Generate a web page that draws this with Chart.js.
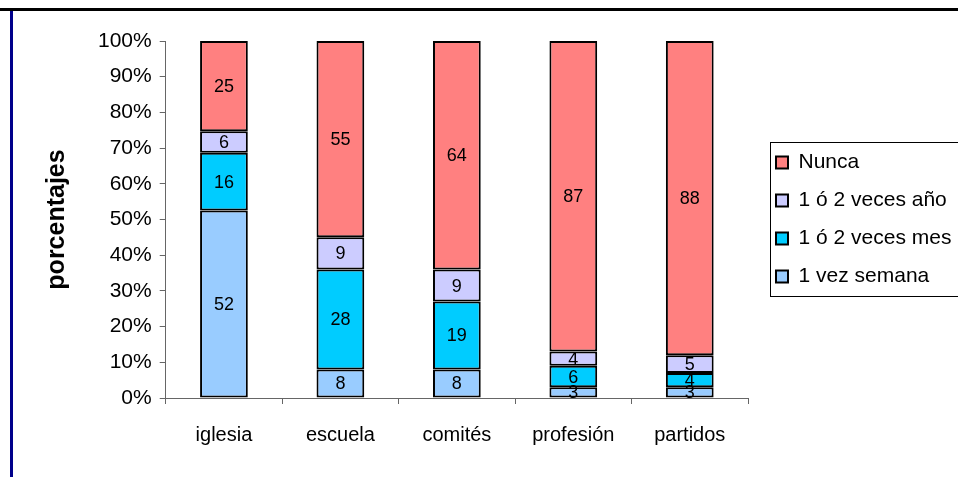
<!DOCTYPE html>
<html>
<head>
<meta charset="utf-8">
<script src="https://cdn.jsdelivr.net/npm/chart.js@4.4.1/dist/chart.umd.min.js"></script>
<style>
  html, body { margin: 0; padding: 0; background: #fff; overflow: hidden; }
  #wrap { position: relative; width: 958px; height: 477px; }
  #chart { position: absolute; left: 0; top: 0; }
  #topLine { position: absolute; left: 0; top: 8px; width: 958px; height: 3px; background: #000; }
  #sideLine { position: absolute; left: 10px; top: 11px; width: 3px; height: 466px; background: #00008b; }
</style>
</head>
<body>
<div id="wrap">
  <canvas id="chart" width="958" height="477"></canvas>
  <div id="topLine"></div>
  <div id="sideLine"></div>
</div>
<script>
const categories = ['iglesia', 'escuela', 'comités', 'profesión', 'partidos'];
const semana = [52, 8, 8, 3, 3];     // 1 vez semana
const mes = [16, 28, 19, 6, 4];      // 1 ó 2 veces mes
const anio = [6, 9, 9, 4, 5];        // 1 ó 2 veces año
const nunca = [25, 55, 64, 87, 88];  // Nunca
const yTicks = [0, 10, 20, 30, 40, 50, 60, 70, 80, 90, 100];

const FONT = "'Liberation Sans', Arial, sans-serif";

// 100% stacked: turn each value into its share of the category total
const totals = categories.map((c, i) => semana[i] + mes[i] + anio[i] + nunca[i]);
const toPct = arr => arr.map((v, i) => v / totals[i] * 100);

function makeSet(label, raw, color) {
    return {
        label: label,
        data: toPct(raw),
        raw: raw,
        backgroundColor: color,
        borderColor: '#000',
        borderWidth: 2,
        borderSkipped: false,
        categoryPercentage: 1,
        barPercentage: 0.41
    };
}

// draw the value in the middle of each segment
const valueLabels = {
    id: 'valueLabels',
    afterDatasetsDraw(chart) {
        const ctx = chart.ctx;
        ctx.save();
        ctx.font = '18px ' + FONT;
        ctx.fillStyle = '#000';
        ctx.textAlign = 'center';
        ctx.textBaseline = 'middle';
        chart.data.datasets.forEach((ds, i) => {
            chart.getDatasetMeta(i).data.forEach((bar, j) => {
                ctx.fillText(String(ds.raw[j]), bar.x, (bar.y + bar.base) / 2 + 1);
            });
        });
        ctx.restore();
    }
};

// move the legend next to the plot and frame it
const legendBox = {
    id: 'legendBox',
    afterLayout(chart) {
        const lg = chart.legend;
        const pad = lg.options.labels.padding;
        lg.left = chart.chartArea.right + 28 - pad;
        lg.right = chart.width + 20;
        lg.width = lg.right - lg.left;
        lg.top = chart.chartArea.top;
        lg.bottom = chart.chartArea.bottom;
    },
    afterDraw(chart) {
        const hb = chart.legend.legendHitBoxes;
        if (!hb || !hb.length) return;
        const first = hb[0], last = hb[hb.length - 1];
        const ctx = chart.ctx;
        ctx.save();
        ctx.strokeStyle = '#000';
        ctx.lineWidth = 1;
        const x = Math.round(first.left - 6) + 0.5;
        const y = Math.round(first.top - 10) + 0.5;
        const b = Math.round(last.top + last.height + 9) + 0.5;
        ctx.strokeRect(x, y, chart.width + 10 - x, b - y);
        ctx.restore();
    }
};

const ctx = document.getElementById('chart').getContext('2d');
const chart = new Chart(ctx, {
    type: 'bar',
    data: {
        labels: categories,
        datasets: [
            makeSet('1 vez semana', semana, '#99CCFF'),
            makeSet('1 ó 2 veces mes', mes, '#00CCFF'),
            makeSet('1 ó 2 veces año', anio, '#CCCCFF'),
            makeSet('Nunca', nunca, '#FF8080')
        ]
    },
    options: {
        responsive: false,
        animation: false,
        layout: { padding: { left: 20, right: 30, top: 41, bottom: 11 } },
        plugins: {
            tooltip: { enabled: false },
            legend: {
                position: 'right',
                reverse: true,
                maxWidth: 180,
                labels: {
                    color: '#000',
                    font: { family: FONT, size: 21 },
                    boxWidth: 12,
                    boxHeight: 12,
                    padding: 17
                }
            }
        },
        scales: {
            x: {
                stacked: true,
                grid: { drawOnChartArea: false, tickLength: 6, color: '#666' },
                border: { color: '#666', width: 1 },
                ticks: { color: '#000', padding: 19, font: { family: FONT, size: 20 } }
            },
            y: {
                stacked: true,
                min: 0,
                max: 100,
                afterBuildTicks: scale => { scale.ticks = yTicks.map(v => ({ value: v })); },
                grid: { drawOnChartArea: false, tickLength: 6, color: '#666' },
                border: { color: '#666', width: 1 },
                ticks: {
                    color: '#000',
                    padding: 8,
                    font: { family: FONT, size: 21 },
                    callback: v => v + '%'
                },
                title: {
                    display: true,
                    text: 'porcentajes',
                    color: '#000',
                    font: { family: FONT, size: 25, weight: 'bold' },
                    padding: { top: 22, bottom: 18 }
                }
            }
        }
    },
    plugins: [valueLabels, legendBox]
});
</script>
</body>
</html>
